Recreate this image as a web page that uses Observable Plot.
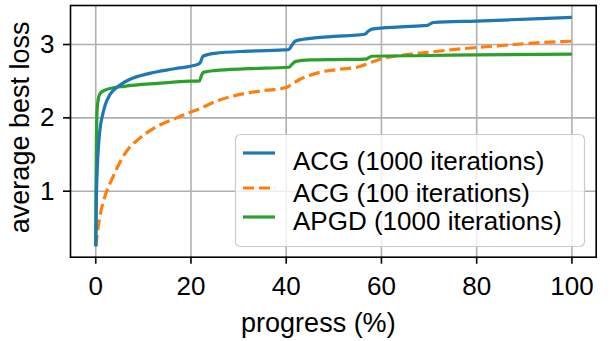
<!DOCTYPE html>
<html><head><meta charset="utf-8">
<script src="https://cdn.jsdelivr.net/npm/d3@7"></script>
<script src="https://cdn.jsdelivr.net/npm/@observablehq/plot@0.6"></script>
<style>
body{margin:0;background:#fff;}
#chart{position:relative;width:610px;height:341px;font-family:"Liberation Sans",Arial,sans-serif;}
#chart svg{display:block;}
#legend{position:absolute;left:0;top:0;pointer-events:none;}
</style></head><body><div id="chart"></div>
<script>
// ---- data ----
const seriesNames = ["ACG (1000 iterations)", "ACG (100 iterations)", "APGD (1000 iterations)"];
const seriesColors = ["#1f77b4", "#ff7f0e", "#2ca02c"];
const seriesDash = [null, "11.1,4.8", null];

const acg1000X = [0, 0.15, 0.35, 0.65, 1.0, 1.4, 2.0, 3.0, 4.5, 7.0, 11.5, 16.5, 21.5, 22.0, 22.5, 25, 32, 40.5, 41.2, 42, 46, 50, 56.5, 57.2, 58, 64, 69.6, 70.3, 71, 80, 92, 100];
const acg1000Y = [0.25, 0.95, 1.35, 1.68, 1.9, 2.03, 2.18, 2.32, 2.42, 2.52, 2.61, 2.67, 2.73, 2.76, 2.84, 2.88, 2.91, 2.93, 2.99, 3.05, 3.09, 3.11, 3.14, 3.18, 3.21, 3.24, 3.26, 3.285, 3.30, 3.32, 3.35, 3.37];

const acg100X = [0, 0.5, 1, 1.7, 2.4, 3.3, 4.5, 6, 7.3, 9, 11.5, 14, 17, 20, 22, 25, 29, 35, 39.8, 41, 43, 45, 47, 51, 55.5, 57.5, 59.7, 64, 70, 75, 80, 86, 92, 100];
const acg100Y = [0.25, 0.5, 0.7, 0.88, 1.02, 1.15, 1.32, 1.5, 1.61, 1.71, 1.83, 1.92, 2.0, 2.08, 2.13, 2.22, 2.30, 2.37, 2.41, 2.45, 2.53, 2.58, 2.62, 2.66, 2.70, 2.75, 2.80, 2.85, 2.895, 2.93, 2.96, 2.99, 3.02, 3.045];

const apgdX = [0, 0.05, 0.15, 0.3, 0.6, 1.0, 2.0, 3.0, 6, 13, 20, 21.8, 22.1, 22.6, 25, 32, 40.6, 41.2, 42, 45, 50, 56.8, 57.3, 58, 70, 80, 100];
const apgdY = [0.25, 1.0, 1.75, 2.12, 2.28, 2.34, 2.38, 2.40, 2.43, 2.47, 2.50, 2.505, 2.56, 2.62, 2.645, 2.67, 2.69, 2.73, 2.77, 2.79, 2.795, 2.80, 2.82, 2.84, 2.85, 2.86, 2.87];

const xTicks = [0, 20, 40, 60, 80, 100];
const yTicks = [1, 2, 3];
const xLabel = "progress (%)";
const yLabel = "average best loss";

// ---- build tables ----
const seriesX = [acg1000X, acg100X, apgdX];
const seriesY = [acg1000Y, acg100Y, apgdY];
const tables = seriesNames.map((name, i) => seriesX[i].map((x, j) => ({x, y: seriesY[i][j], name})));

const W = 610, H = 341;
const mL = 70, mR = 14.3, mT = 5, mB = 84.3;
const font = "'Liberation Sans', Arial, Helvetica, sans-serif";

const lineMarks = [1, 2, 0].map(i => Plot.line(tables[i], {
  x: "x", y: "y", stroke: seriesColors[i], strokeWidth: 3.2,
  strokeDasharray: seriesDash[i] || undefined, curve: "monotone-x", strokeLinecap: "butt"
}));

const plot = Plot.plot({
  width: W, height: H,
  marginLeft: mL, marginRight: mR, marginTop: mT, marginBottom: mB,
  style: {fontFamily: font, fontSize: "26px", background: "white", color: "black", overflow: "visible"},
  x: {domain: [-5.3, 105.1]},
  y: {domain: [0.1, 3.532]},
  marks: [
    Plot.gridX(xTicks, {stroke: "#b0b0b0", strokeOpacity: 1, strokeWidth: 1.6}),
    Plot.gridY(yTicks, {stroke: "#b0b0b0", strokeOpacity: 1, strokeWidth: 1.6}),
    ...lineMarks,
    Plot.frame({stroke: "black", strokeWidth: 1.6}),
    Plot.axisX(xTicks, {tickSize: 7, tickPadding: 12, label: null, strokeWidth: 1.6, fontSize: 26, tickFormat: d => String(d)}),
    Plot.axisY(yTicks, {tickSize: 7, tickPadding: 9, label: null, strokeWidth: 1.6, fontSize: 26, tickFormat: d => String(d)}),
    Plot.text([xLabel], {text: d => d, frameAnchor: "bottom", dy: 66, dx: -15, fontSize: 27, lineAnchor: "middle", textAnchor: "middle"}),
    Plot.text([yLabel], {text: d => d, frameAnchor: "left", rotate: -90, dx: -50, dy: -4, fontSize: 27, lineAnchor: "middle", textAnchor: "middle"})
  ]
});
document.getElementById("chart").appendChild(plot);

// ---- legend overlay (upper-right box inside the axes) ----
const leg = d3.select("#chart").append("svg").attr("id", "legend")
  .attr("width", W).attr("height", H);
const box = {x: 235, y: 134, w: 349, h: 112};
leg.append("rect").attr("x", box.x + 0.5).attr("y", box.y + 0.5).attr("width", box.w).attr("height", box.h)
  .attr("rx", 5).attr("fill", "white").attr("fill-opacity", 0.8).attr("stroke", "#cccccc").attr("stroke-width", 1.2);
const handleY = [153, 188, 217];
const textY = [170, 201.5, 230];
seriesNames.forEach((name, i) => {
  leg.append("line").attr("x1", 243).attr("x2", 275).attr("y1", handleY[i]).attr("y2", handleY[i])
    .attr("stroke", seriesColors[i]).attr("stroke-width", 3.2)
    .attr("stroke-dasharray", seriesDash[i] ? "11.1,4.8" : null);
  leg.append("text").attr("x", 293).attr("y", textY[i]).attr("font-family", font).attr("font-size", 26)
    .attr("fill", "black").text(name);
});
</script></body></html>
